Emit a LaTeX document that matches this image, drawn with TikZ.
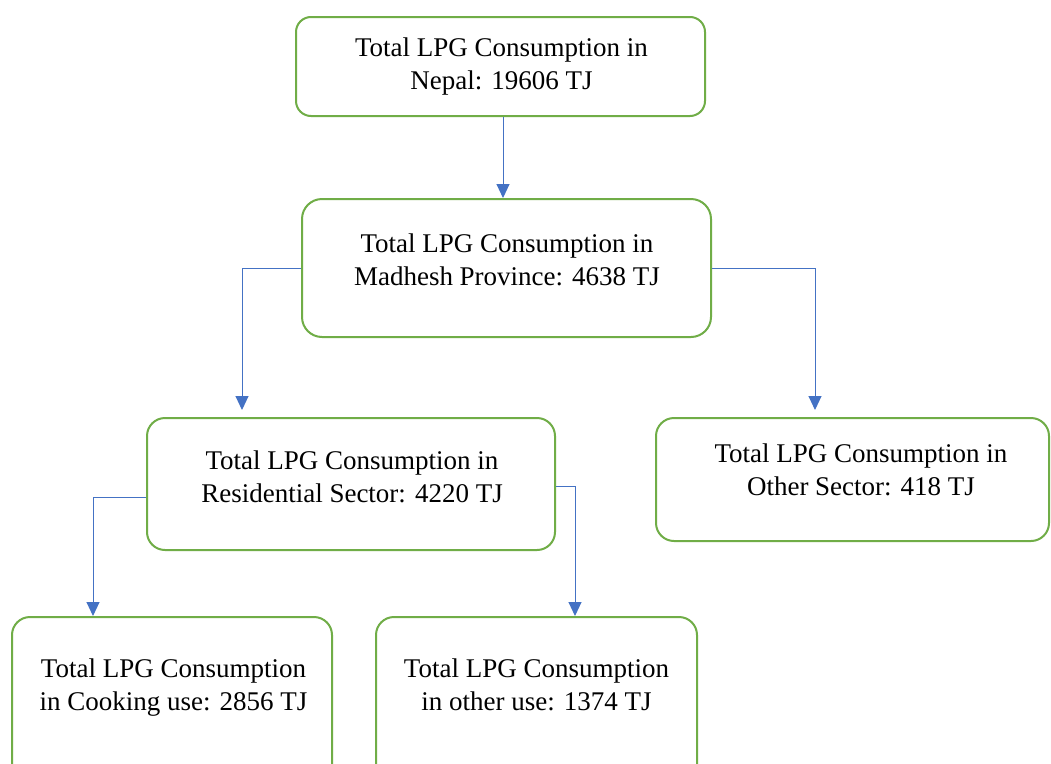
\documentclass[tikz,border=0pt]{standalone}
\usepackage{fontspec}
\setmainfont{Liberation Serif}
\usetikzlibrary{arrows.meta}
\definecolor{boxgreen}{HTML}{70AD47}
\definecolor{lineblue}{HTML}{4472C4}
\begin{document}
\begin{tikzpicture}[x=1pt,y=-1pt,
  box/.style={draw=boxgreen,line width=2pt,rounded corners=18pt,fill=white,inner sep=0pt},
  txt/.style={align=center,font=\fontsize{27}{33}\selectfont,inner sep=0pt,text=black},
  arr/.style={draw=lineblue,line width=1pt,-{Triangle[width=13pt,length=14pt]}}]
\useasboundingbox (0,0) rectangle (1051,763);
\clip (0,0) rectangle (1051,763);
\fill[white] (0,0) rectangle (1051,763);
% boxes
\node[box,rounded corners=15pt,minimum width=409pt,minimum height=99pt] (nep) at (500.5,66.5) {};
\node[box,rounded corners=20pt,minimum width=409pt,minimum height=138pt] (mad) at (506.5,268) {};
\node[box,minimum width=408pt,minimum height=132pt] (res) at (351,484) {};
\node[box,minimum width=393pt,minimum height=123pt] (oth) at (852.5,479.5) {};
\node[box,minimum width=320pt,minimum height=170pt] (cook) at (172,702) {};
\node[box,minimum width=321pt,minimum height=170pt] (ouse) at (536.5,702) {};
% texts
\node[txt] (nepT) at (501.5,67) {Total LPG Consumption in\\Nepal: 19606 TJ};
\node[txt] (madT) at (507,259.5) {Total LPG Consumption in\\Madhesh Province: 4638 TJ};
\node[txt] (resT) at (352,477) {Total LPG Consumption in\\Residential Sector: 4220 TJ};
\node[txt] (othT) at (861,470) {Total LPG Consumption in\\Other Sector: 418 TJ};
\node[txt] (cookT) at (173.5,688) {Total LPG Consumption\\in Cooking use: 2856 TJ};
\node[txt] (ouseT) at (536.5,685) {Total LPG Consumption\\in other use: 1374 TJ};
% connector end points
\coordinate (e0) at (503,198);
\coordinate (e1) at (242,410);
\coordinate (e2) at (815,410);
\coordinate (e3) at (93,616);
\coordinate (e4) at (575,616);
% connectors
\draw[arr] (nep.south -| e0) -- (e0);
\draw[arr] (mad.west) -| (e1);
\draw[arr] (mad.east) -| (e2);
\draw[arr] ([yshift=-13pt]res.west) -| (e3);
\draw[arr] ([yshift=-2pt]res.east) -| (e4);
\end{tikzpicture}
\end{document}
